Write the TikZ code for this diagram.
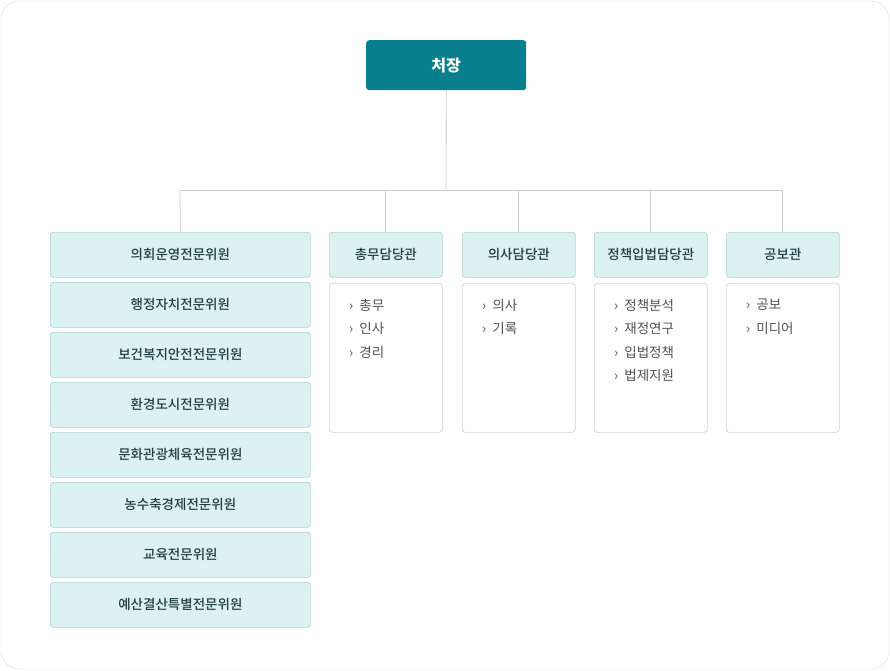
\documentclass[tikz,border=0pt]{standalone}
\usepackage{fontspec}
\setmainfont{Noto Sans CJK KR}
\newfontfamily\medfont{Noto Sans CJK KR Medium}
\begin{document}
\begin{tikzpicture}[x=1pt,y=-1pt,
 line/.style={draw=black!20,line width=0.8pt},
 head/.style={draw=headline,fill=headfill,rounded corners=3pt,line width=0.7pt,font=\medfont\fontsize{13.5}{15}\selectfont,text=headtext,anchor=north west,inner sep=0pt},
 listbox/.style={draw=black!18,fill=white,rounded corners=3pt,line width=0.7pt,anchor=north west,inner sep=0pt},
 item/.style={font=\fontsize{13.5}{23.5}\selectfont,text=black!68,anchor=north west,align=left,inner sep=0pt}]
\definecolor{chief}{HTML}{077F8F}
\definecolor{headfill}{HTML}{DCF1F1}
\definecolor{headline}{HTML}{A9D3D3}
\definecolor{headtext}{HTML}{1F3F44}
\useasboundingbox (0,0) rectangle (890,670);
\draw[draw=black!15,fill=white,rounded corners=18pt] (1,1) rectangle (889,669);
\node[fill=chief,rounded corners=3pt,minimum width=160pt,minimum height=50pt,anchor=north west,inner sep=0pt,text=white,font=\medfont\bfseries\fontsize{16}{18}\selectfont] (c) at (366,40) {처장};
\coordinate (j) at (446,190);
\coordinate (l) at (180,190);
\coordinate (r) at (783,190);
\draw[line] (c.south) -- (j);
\draw[line] (l) -- (r);
\foreach \t [count=\i from 0] in {의회운영전문위원,행정자치전문위원,보건복지안전전문위원,환경도시전문위원,문화관광체육전문위원,농수축경제전문위원,교육전문위원,예산결산특별전문위원}{
 \node[head,minimum width=260pt,minimum height=45pt] (L\i) at (50,232+50*\i) {\t};
}
\draw[line] (l) -- (L0.north);
\foreach \n/\x/\t/\items in {a/329/총무담당관/{›\ \ 총무\\›\ \ 인사\\›\ \ 경리},b/462/의사담당관/{›\ \ 의사\\›\ \ 기록},d/594/정책입법담당관/{›\ \ 정책분석\\›\ \ 재정연구\\›\ \ 입법정책\\›\ \ 법제지원},e/726/공보관/{›\ \ 공보\\›\ \ 미디어}}{
 \node[head,minimum width=113pt,minimum height=45pt] (\n) at (\x,232) {\t};
 \node[listbox,minimum width=113pt,minimum height=149pt] (\n l) at (\x,283) {};
 \node[item] (\n i) at (\x+20,299) {\items};
 \draw[line] (\n.north) -- (\n.north |- j);
}
\end{tikzpicture}
\end{document}
